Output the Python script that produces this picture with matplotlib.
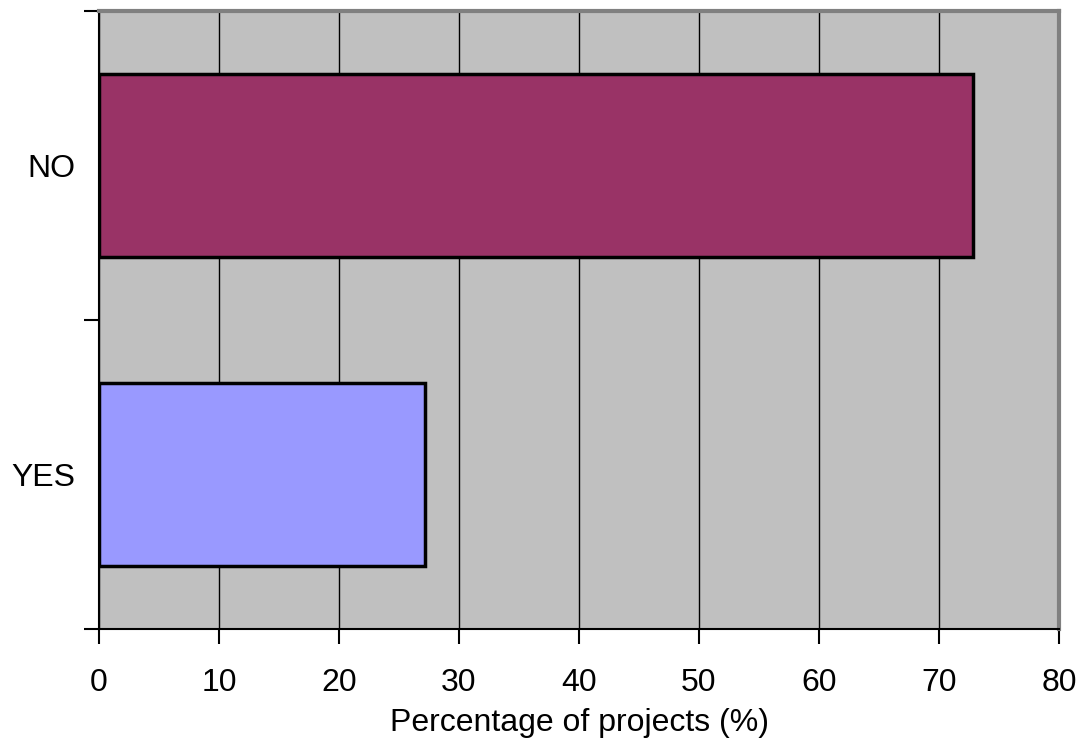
import matplotlib
matplotlib.use("Agg")
import matplotlib.pyplot as plt
from matplotlib.ticker import FixedLocator, NullFormatter

categories = ["YES", "NO"]
values = [27.2, 72.8]
colors = ["#9999FF", "#993366"]
x_ticks = [0, 10, 20, 30, 40, 50, 60, 70, 80]
x_label = "Percentage of projects (%)"

plt.rcParams['font.family'] = ['Liberation Sans', 'DejaVu Sans']

fig = plt.figure(figsize=(10.82, 7.40), dpi=100)
ax = fig.add_axes([99/1082, 111/740, 960/1082, 618/740])
ax.set_facecolor("#C0C0C0")

pos = [i + 0.5 for i in range(len(categories))]
ax.barh(pos, values, height=0.59, color=colors, edgecolor="black", linewidth=2.5, zorder=3)

ax.set_xlim(0, 80)
ax.set_ylim(0, 2)
ax.set_xticks(x_ticks)
ax.set_xticklabels([str(t) for t in x_ticks], fontsize=23)
ax.grid(axis="x", color="black", linewidth=1, zorder=1)
ax.set_axisbelow(True)

ax.yaxis.set_major_locator(FixedLocator([0, 1, 2]))
ax.yaxis.set_major_formatter(NullFormatter())
ax.yaxis.set_minor_locator(FixedLocator(pos))
ax.set_yticklabels(categories, minor=True, fontsize=23)
ax.tick_params(axis="y", which="minor", length=0, pad=17)
ax.tick_params(axis="y", which="major", length=11, width=1.5, direction="out")
ax.tick_params(axis="x", which="major", length=11, width=1.5, direction="out", pad=17)

for s in ["left", "bottom"]:
    ax.spines[s].set_color("black")
    ax.spines[s].set_linewidth(1.5)
for s in ["top", "right"]:
    ax.spines[s].set_color("#808080")
    ax.spines[s].set_linewidth(3)

ax.set_xlabel(x_label, fontsize=23, labelpad=7)

fig.savefig("out.png", dpi=100)
